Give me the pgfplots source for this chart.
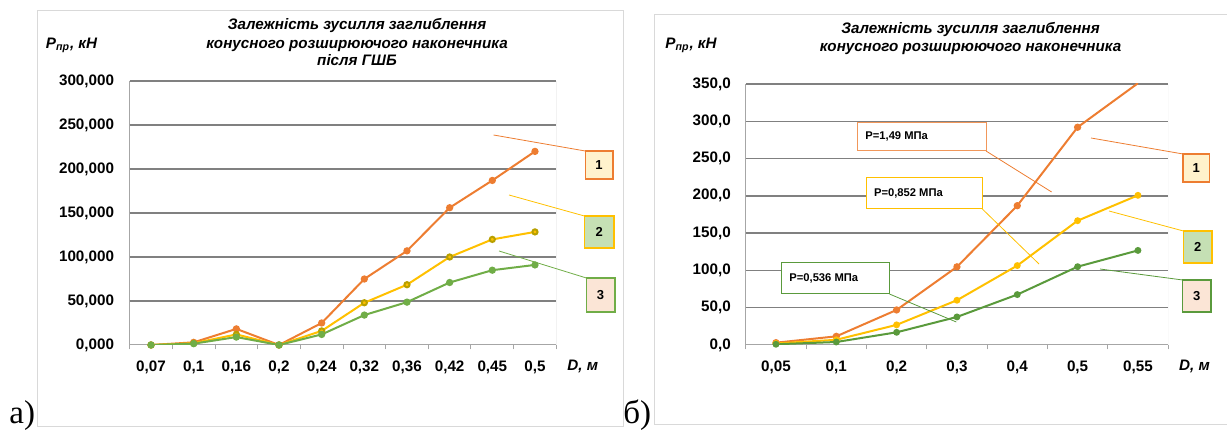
\documentclass[border=0pt]{standalone}
\usepackage{pgfplots}
\pgfplotsset{compat=1.18}
\usepackage{fontspec}
\setmainfont{Liberation Sans}
\newfontfamily\serifff{Liberation Serif}
\definecolor{cOr}{HTML}{ED7D31}
\definecolor{cYe}{HTML}{FFC000}
\definecolor{cYeD}{HTML}{B8A000}
\definecolor{cGr}{HTML}{70AD47}
\definecolor{cGr2}{HTML}{5A9A3C}
\definecolor{fOne}{HTML}{FFF2CC}
\definecolor{fTwo}{HTML}{C5E0B4}
\definecolor{fThree}{HTML}{FBE5D6}
\definecolor{gridc}{HTML}{808080}
\definecolor{axc}{HTML}{A6A6A6}
\definecolor{frc}{HTML}{D9D9D9}
\pgfplotsset{
  common/.style={
    scale only axis, anchor=south west,
    ymin=0,
    axis x line*=bottom, axis y line*=left,
    axis line style={-, draw=axc, line width=0.5pt},
    major tick length=0pt, minor tick length=2.2pt,
    tick align=outside,
    minor tick style={draw=axc, line width=0.5pt},
    ticklabel style={font=\fontsize{7.6}{8}\selectfont\bfseries},
    xticklabel style={anchor=base, yshift=-13.5pt},
    extra y tick style={ymajorgrids=true, major tick length=0pt},
    extra y tick labels={},
    major grid style={draw=gridc, line width=0.75pt},
    clip=true,
  },
  sO/.style={cOr, line width=1pt, mark=*, mark size=1.3pt, mark options={fill=cOr, draw=cOr}},
  sY/.style={cYe, line width=1pt, mark=*, mark size=1.3pt, mark options={fill=cYe, draw=cYeD}},
  sG/.style={cGr, line width=1pt, mark=*, mark size=1.3pt, mark options={fill=cGr, draw=cGr}},
  sY2/.style={cYe, line width=1pt, mark=*, mark size=1.2pt, mark options={fill=cYe, draw=cYe}},
  sG2/.style={cGr2, line width=1pt, mark=*, mark size=1.2pt, mark options={fill=cGr2, draw=cGr2}},
}
\begin{document}
\begin{tikzpicture}
\path[use as bounding box] (0,0) rectangle (613.5pt,216pt);
% ---------- left chart ----------
\begin{axis}[common,
  at={(64.85pt,43.5pt)}, width=213.3pt, height=132pt,
  xmin=-0.5, xmax=9.5, ymax=300,
  xtick={0,...,9},
  xticklabels={{0,07},{0,1},{0,16},{0,2},{0,24},{0,32},{0,36},{0,42},{0,45},{0,5}},
  minor xtick={-0.5,0.5,...,9.5},
  ytick={0,50,...,300},
  yticklabels={{0,000},{50,000},{100,000},{150,000},{200,000},{250,000},{300,000}},
  yticklabel style={xshift=-4.3pt},
  extra y ticks={50,100,...,300},
]
\draw[frc, line width=0.5pt] (rel axis cs:1,0) -- (rel axis cs:1,1);
\addplot[sO] coordinates {(0,0) (1,3) (2,18.3) (3,0) (4,25) (5,75) (6,107) (7,156) (8,187) (9,220)};
\addplot[sY] coordinates {(0,0) (1,2) (2,12) (3,0) (4,16) (5,48) (6,68.5) (7,100) (8,120) (9,128.5)};
\addplot[sG] coordinates {(0,0) (1,1.5) (2,9) (3,0) (4,12) (5,34) (6,48.7) (7,71) (8,85) (9,91)};
\end{axis}
% ---------- right chart ----------
\begin{axis}[common,
  at={(372.9pt,43.5pt)}, width=211.15pt, height=130.5pt,
  xmin=-0.5, xmax=6.5, ymax=350,
  xtick={0,...,6},
  xticklabels={{0,05},{0,1},{0,2},{0,3},{0,4},{0,5},{0,55}},
  minor xtick={-0.5,0.5,...,6.5},
  ytick={0,50,...,350},
  yticklabels={{0,0},{50,0},{100,0},{150,0},{200,0},{250,0},{300,0},{350,0}},
  yticklabel style={xshift=-4pt},
  extra y ticks={50,100,...,350},
]
\draw[frc, line width=0.5pt] (rel axis cs:1,0) -- (rel axis cs:1,1);
\addplot[sO] coordinates {(0,3.1) (1,11.6) (2,47) (3,104.8) (4,186.8) (5,292) (6,351)};
\addplot[sY2] coordinates {(0,2) (1,7) (2,27) (3,60) (4,106.5) (5,166.7) (6,200.7)};
\addplot[sG2] coordinates {(0,1) (1,4) (2,17) (3,37.6) (4,67.6) (5,105) (6,126.8)};
\end{axis}
% ---------- decorations (pixel coordinates, y downwards) ----------
\begin{scope}[x=0.5pt, y=-0.5pt, shift={(0,216pt)}]
% frames
\draw[frc, line width=0.5pt] (37.6,11) rectangle (623.8,427);
\draw[frc, line width=0.5pt] (1227,15) -- (654.5,15) -- (654.5,425) -- (1227,425);
% panel letters
\node[anchor=base west, inner sep=0, font=\serifff\fontsize{16.5}{18}\selectfont] at (9,424) {а)};
\node[anchor=base west, inner sep=0, font=\serifff\fontsize{16.5}{18}\selectfont] at (623,424) {б)};
% titles
\begin{scope}[every node/.style={anchor=base, inner sep=0, font=\fontsize{7.6}{8}\selectfont\bfseries\itshape}]
\node at (357,30) {Залежність зусилля заглиблення};
\node at (357,48.5) {конусного розширюючого наконечника};
\node at (357,66) {після ГШБ};
\node at (970.5,34) {Залежність зусилля заглиблення};
\node at (970.5,52) {конусного розширюючого наконечника};
\end{scope}
% axis labels
\begin{scope}[every node/.style={anchor=base west, inner sep=0, font=\fontsize{7.6}{8}\selectfont\bfseries\itshape}]
\node at (45.5,49) {P\textsubscript{пр}, кН};
\node at (665,49) {P\textsubscript{пр}, кН};
\node at (567,371) {D, м};
\node at (1178.7,371) {D, м};
\end{scope}
% numbered callouts, left
\draw[cOr, line width=0.4pt] (493.5,135) -- (585.2,151);
\draw[cYe, line width=0.4pt] (509,195) -- (584.4,216);
\draw[cGr, line width=0.4pt] (499,251) -- (586.4,278);
\draw[cOr, fill=fOne, line width=0.6pt] (585.2,151) rectangle (612.9,179);
\draw[cYe, fill=fTwo, line width=0.6pt] (584.4,216) rectangle (614,248);
\draw[cGr, fill=fThree, line width=0.6pt] (586.4,278) rectangle (614.9,312);
\begin{scope}[every node/.style={inner sep=0, font=\fontsize{6.5}{7}\selectfont\bfseries}]
\node at (599,165) {1};
\node at (599.2,232) {2};
\node at (600.6,295) {3};
\end{scope}
% numbered callouts, right
\draw[cOr, line width=0.4pt] (1091,138) -- (1183,154);
\draw[cYe, line width=0.4pt] (1109,211) -- (1183.4,231);
\draw[cGr2, line width=0.4pt] (1100,269) -- (1182.6,280);
\draw[cOr, fill=fOne, line width=0.6pt] (1183,154) rectangle (1209.4,182);
\draw[cYe, fill=fTwo, line width=0.6pt] (1183.4,231) rectangle (1212,263);
\draw[cGr2, fill=fThree, line width=0.6pt] (1182.6,280) rectangle (1211,312);
\begin{scope}[every node/.style={inner sep=0, font=\fontsize{6.5}{7}\selectfont\bfseries}]
\node at (1196.2,168) {1};
\node at (1197.7,247) {2};
\node at (1196.8,296) {3};
\end{scope}
% pressure labels, right
\draw[cOr, line width=0.4pt] (986,151) -- (1051.6,192);
\draw[cYe, line width=0.4pt] (982.3,209) -- (1039,264);
\draw[cGr2, line width=0.4pt] (889.4,294) -- (956.3,322);
\draw[cOr!80, fill=white, line width=0.5pt] (857,123) rectangle (986,151);
\draw[cYe, fill=white, line width=0.5pt] (866.6,178) rectangle (982.3,209);
\draw[cGr2, fill=white, line width=0.5pt] (781.6,263) rectangle (889.4,294);
\begin{scope}[every node/.style={anchor=west, inner sep=0, font=\fontsize{5.6}{6}\selectfont\bfseries}]
\node at (865,136) {P=1,49 МПа};
\node at (873.7,193) {P=0,852 МПа};
\node at (789,278.7) {P=0,536 МПа};
\end{scope}
\end{scope}
\end{tikzpicture}
\end{document}
